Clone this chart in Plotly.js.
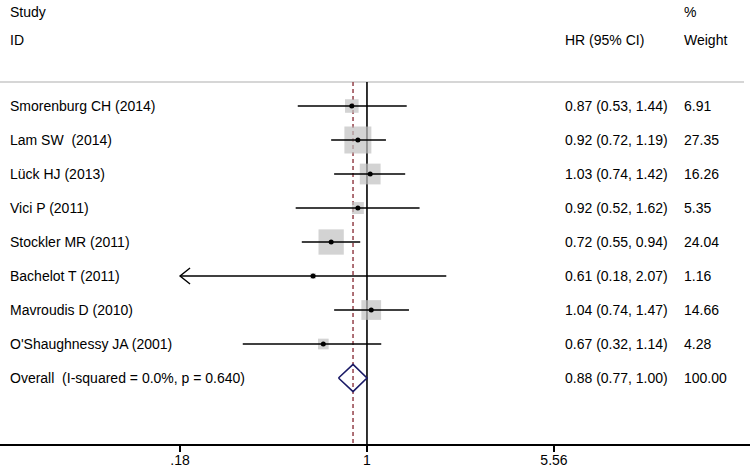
<!DOCTYPE html>
<html>
<head>
<meta charset="utf-8">
<script src="https://cdn.plot.ly/plotly-3.0.1.min.js"></script>
<style>html,body{margin:0;padding:0;background:#fff;}#chart{width:750px;height:469px;}</style>
</head>
<body>
<div id="chart"></div>
<script>
const studies = ["Smorenburg CH (2014)", "Lam SW\u00a0\u00a0(2014)", "Lück HJ (2013)", "Vici P (2011)", "Stockler MR (2011)", "Bachelot T (2011)", "Mavroudis D (2010)", "O'Shaughnessy JA (2001)"];
const hr = [0.87, 0.92, 1.03, 0.92, 0.72, 0.61, 1.04, 0.67];
const ciLow = [0.53, 0.72, 0.74, 0.52, 0.55, 0.18, 0.74, 0.32];
const ciHigh = [1.44, 1.19, 1.42, 1.62, 0.94, 2.07, 1.47, 1.14];
const weights = [6.91, 27.35, 16.26, 5.35, 24.04, 1.16, 14.66, 4.28];
const overallLabel = "Overall\u00a0\u00a0(I-squared = 0.0%, p = 0.640)";
const overallHR = 0.88, overallLow = 0.77, overallHigh = 1.00, overallWeight = 100.00;
const tickVals = [0.18, 1, 5.56];
const tickText = [".18", "1", "5.56"];

const FONT = "Liberation Sans, Arial, sans-serif";
const FS = 14;
const rows = studies.map((_, i) => i);
const overallRow = studies.length;
const fmt = v => v.toFixed(2);

const traces = [];
// weight boxes
traces.push({
  type: "scatter", mode: "markers", x: hr, y: rows,
  marker: { symbol: "square", color: "#c0c0c0", size: weights.map(w => 5.16 * Math.sqrt(w)), line: { width: 0 } },
  hoverinfo: "skip", showlegend: false
});
// CI lines
const cx = [], cy = [];
rows.forEach(i => { cx.push(Math.max(ciLow[i], tickVals[0]), ciHigh[i], null); cy.push(i, i, null); });
traces.push({ type: "scatter", mode: "lines", x: cx, y: cy, line: { color: "#000", width: 1.6 }, hoverinfo: "skip", showlegend: false });
// point estimates
traces.push({ type: "scatter", mode: "markers", x: hr, y: rows, marker: { color: "#000", size: 5 }, hoverinfo: "skip", showlegend: false });
// overall diamond
const dh = 0.4;
traces.push({
  type: "scatter", mode: "lines",
  x: [overallLow, overallHR, overallHigh, overallHR, overallLow],
  y: [overallRow, overallRow - dh, overallRow, overallRow + dh, overallRow],
  line: { color: "#1a1a66", width: 1.6 }, hoverinfo: "skip", showlegend: false
});

const topY = -0.706;   // header separator position (row units)
const botY = 9.941;
const shapes = [
  { type: "line", xref: "paper", yref: "y", x0: 0, x1: 0.992, y0: topY, y1: topY, line: { color: "#c8c8c8", width: 1.5 }, layer: "below" },
  { type: "line", xref: "x", yref: "y", x0: 1, x1: 1, y0: topY, y1: botY, line: { color: "#000", width: 1.6 }, layer: "below" },
  { type: "line", xref: "x", yref: "y", x0: overallHR, x1: overallHR, y0: topY, y1: botY, line: { color: "#9b4d55", width: 1.6, dash: "4px,3px" }, layer: "below" }
];
rows.forEach(i => {
  if (ciLow[i] <= tickVals[0]) {
    shapes.push({ type: "path", xref: "x", yref: "y", xsizemode: "pixel", ysizemode: "pixel",
      xanchor: tickVals[0], yanchor: i, path: "M 10 8 L 0 0 L 10 -8",
      line: { color: "#000", width: 1.4 } });
  }
});

const ann = [];
const addText = (text, x, y) => ann.push({ text, xref: "paper", yref: "y", x, y, xanchor: "left", yanchor: "middle", showarrow: false, font: { family: FONT, size: FS, color: "#000" } });
addText("Study", 0.0107, -2.76);
addText("ID", 0.0107, -1.94);
addText("%", 0.909, -2.76);
addText("HR (95% CI)", 0.7507, -1.94);
addText("Weight", 0.909, -1.94);
rows.forEach(i => {
  addText(studies[i], 0.0107, i);
  addText(`${fmt(hr[i])} (${fmt(ciLow[i])}, ${fmt(ciHigh[i])})`, 0.7507, i);
  addText(fmt(weights[i]), 0.909, i);
});
addText(overallLabel, 0.0107, overallRow);
addText(`${fmt(overallHR)} (${fmt(overallLow)}, ${fmt(overallHigh)})`, 0.7507, overallRow);
addText(fmt(overallWeight), 0.909, overallRow);

const layout = {
  width: 750, height: 469,
  margin: { l: 0, r: 0, t: 0, b: 25, pad: 0 },
  paper_bgcolor: "#fff", plot_bgcolor: "#fff",
  showlegend: false,
  font: { family: FONT, size: FS, color: "#000" },
  xaxis: {
    type: "log", range: [-1.462, 1.526], showgrid: false, zeroline: false,
    showline: true, linecolor: "#000", linewidth: 1.6,
    tickmode: "array", tickvals: tickVals, ticktext: tickText,
    ticks: "outside", ticklen: 6, tickwidth: 1.4, tickcolor: "#000",
    ticklabelstandoff: -3,
    tickfont: { family: FONT, size: FS, color: "#000" }, fixedrange: true
  },
  yaxis: { range: [botY, -3.118], showgrid: false, zeroline: false, showline: false, showticklabels: false, ticks: "", fixedrange: true },
  shapes, annotations: ann
};
Plotly.newPlot("chart", traces, layout, { staticPlot: true, displayModeBar: false });
</script>
</body>
</html>
